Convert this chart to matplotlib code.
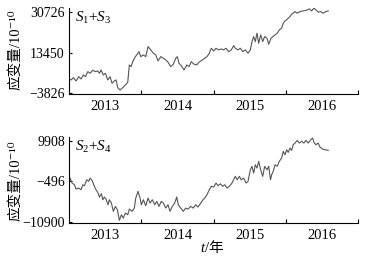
import matplotlib
matplotlib.use("Agg")
import matplotlib.pyplot as plt
from matplotlib.ticker import FixedLocator, NullFormatter, FixedFormatter

plt.rcParams['font.family'] = ['Liberation Serif', 'Noto Sans CJK SC', 'DejaVu Serif']
plt.rcParams['mathtext.fontset'] = 'custom'
plt.rcParams['mathtext.rm'] = 'Liberation Serif'
plt.rcParams['mathtext.it'] = 'Liberation Serif:italic'

# S1+S3 (decimal year, strain in 1e-10)
t13 = [2013.000, 2013.029, 2013.061, 2013.098, 2013.135, 2013.167, 2013.199, 2013.227,
       2013.260, 2013.291, 2013.329, 2013.365, 2013.398, 2013.420, 2013.443, 2013.475,
       2013.503, 2013.536, 2013.568, 2013.595, 2013.627, 2013.651, 2013.674, 2013.706,
       2013.743, 2013.779, 2013.812, 2013.834, 2013.858, 2013.881, 2013.917, 2013.936,
       2013.968, 2013.992, 2014.028, 2014.061, 2014.093, 2014.130, 2014.166, 2014.199,
       2014.231, 2014.268, 2014.304, 2014.337, 2014.369, 2014.406, 2014.442, 2014.475,
       2014.497, 2014.521, 2014.552, 2014.590, 2014.627, 2014.659, 2014.691, 2014.728,
       2014.765, 2014.797, 2014.843, 2014.876, 2014.907, 2014.939, 2014.967, 2015.000,
       2015.032, 2015.069, 2015.105, 2015.138, 2015.170, 2015.207, 2015.243, 2015.276,
       2015.298, 2015.335, 2015.367, 2015.401, 2015.436, 2015.474, 2015.506, 2015.529,
       2015.552, 2015.575, 2015.598, 2015.622, 2015.649, 2015.677, 2015.704, 2015.736,
       2015.760, 2015.792, 2015.847, 2015.878, 2015.906, 2015.939, 2015.961, 2015.985,
       2016.008, 2016.030, 2016.054, 2016.077, 2016.099, 2016.123, 2016.155, 2016.192,
       2016.238, 2016.285, 2016.320, 2016.354, 2016.385, 2016.413, 2016.445, 2016.478,
       2016.514, 2016.551, 2016.583]
s13 = [2274, 1848, 2829, 1421, 3256, 2274, 3981, 3256,
       5389, 4706, 5986, 5389, 5687, 4706, 6114, 3981,
       4706, 1848, 3256, 440, 1421, 1848, -1437, -2418,
       -1437, -285, 867, 8247, 7522, 9655, 11788, 12513,
       13921, 11788, 12513, 11788, 16054, 14646, 13238, 12513,
       9953, 11788, 11105, 10380, 9399, 7522, 8545, 11105,
       11788, 8972, 7948, 6114, 8247, 7522, 9655, 8545,
       8247, 9399, 10380, 11105, 11788, 13238, 15371, 14219,
       15371, 14646, 15072, 14646, 15371, 13921, 14646, 16480,
       15371, 14646, 15371, 13921, 14646, 13238, 14646, 18187,
       20320, 18187, 21770, 17504, 21045, 18187, 20320, 19637,
       17077, 19637, 21045, 21770, 23178, 23903, 26036, 27017,
       27444, 28169, 28852, 29875, 30302, 30985, 30302, 30985,
       31283, 31582, 32136, 31283, 32435, 31710, 30729, 30985,
       30302, 30985, 31283]

# S2+S4
t24 = [2013.000, 2013.015, 2013.043, 2013.075, 2013.098, 2013.135, 2013.167, 2013.191,
       2013.213, 2013.246, 2013.273, 2013.291, 2013.319, 2013.351, 2013.374, 2013.398,
       2013.420, 2013.448, 2013.467, 2013.489, 2013.512, 2013.540, 2013.558, 2013.586,
       2013.613, 2013.641, 2013.669, 2013.696, 2013.724, 2013.751, 2013.779, 2013.812,
       2013.834, 2013.872, 2013.903, 2013.923, 2013.954, 2013.982, 2014.000, 2014.028,
       2014.061, 2014.093, 2014.120, 2014.152, 2014.185, 2014.213, 2014.244, 2014.276,
       2014.304, 2014.337, 2014.369, 2014.396, 2014.428, 2014.461, 2014.489, 2014.511,
       2014.544, 2014.580, 2014.613, 2014.645, 2014.682, 2014.718, 2014.751, 2014.783,
       2014.820, 2014.852, 2014.876, 2014.907, 2014.939, 2014.967, 2015.000, 2015.032,
       2015.059, 2015.091, 2015.124, 2015.152, 2015.184, 2015.215, 2015.253, 2015.276,
       2015.298, 2015.326, 2015.354, 2015.381, 2015.414, 2015.446, 2015.474, 2015.506,
       2015.529, 2015.552, 2015.575, 2015.598, 2015.622, 2015.649, 2015.677, 2015.704,
       2015.736, 2015.760, 2015.785, 2015.801, 2015.823, 2015.847, 2015.878, 2015.906,
       2015.939, 2015.961, 2015.985, 2016.008, 2016.030, 2016.054, 2016.077, 2016.099,
       2016.123, 2016.155, 2016.182, 2016.215, 2016.247, 2016.275, 2016.307, 2016.340,
       2016.367, 2016.385, 2016.413, 2016.445, 2016.468, 2016.506, 2016.537, 2016.583]
s24 = [804, 366, -923, -1361, -2470, -2212, -2650, -1361,
       -1619, -72, -485, 366, -227, -1774, -2650, -3321,
       -4532, -3682, -5228, -4532, -5048, -6517, -5228, -6079,
       -8219, -6930, -7806, -10539, -9095, -9946, -8657, -9095,
       -7626, -8219, -7368, -4790, -3063, -4790, -6517, -5228,
       -6775, -4790, -6079, -5228, -6517, -5641, -6930, -5641,
       -6079, -7368, -6517, -8219, -6930, -6079, -4532, -6517,
       -7368, -8219, -7368, -7626, -6930, -7368, -6517, -7110,
       -6079, -5228, -4790, -3939, -2650, -1774, -1954, -923,
       -1619, -1104, -1774, -1361, -2212, -1774, -923, -72,
       804, -72, 804, -72, 366, -923, -485, 2506,
       3382, 1655, 3795, 2944, 4671, 2506, 804, 3382,
       2506, 3382, -72, 1217, 2093, 3795, 3382, 4671,
       5522, 7249, 6373, 7662, 6991, 8100, 7507, 8951,
       9389, 10085, 9389, 9827, 9389, 10085, 9389, 10240,
       10678, 9569, 8951, 9389, 8358, 7842, 7662, 7507]

year_ticks = [2014, 2015, 2016, 2017]
year_label_pos = [2013.5, 2014.5, 2015.5, 2016.5]
year_labels = ['2013', '2014', '2015', '2016']

ticks13 = [-3826, 13450, 30726]
ticks24 = [-10900, -496, 9908]

fig = plt.figure(figsize=(3.65, 2.64), dpi=100)
ax1 = fig.add_axes([0.189, 0.644, 0.793, 0.325])
ax2 = fig.add_axes([0.189, 0.154, 0.793, 0.328])

panels = [(ax1, t13, s13, ticks13, (-4125, 32430), '$S_1$+$S_3$'),
          (ax2, t24, s24, ticks24, (-11312, 11016), '$S_2$+$S_4$')]

for ax, t, s, yt, ylim, name in panels:
    ax.plot(t, s, color='#555555', lw=0.8)
    ax.set_xlim(2013, 2017)
    ax.set_ylim(*ylim)
    for side in ['top', 'right']:
        ax.spines[side].set_visible(False)
    ax.spines['left'].set_linewidth(0.8)
    ax.spines['bottom'].set_linewidth(0.8)
    ax.xaxis.set_major_locator(FixedLocator(year_ticks))
    ax.xaxis.set_major_formatter(NullFormatter())
    ax.xaxis.set_minor_locator(FixedLocator(year_label_pos))
    ax.xaxis.set_minor_formatter(FixedFormatter(year_labels))
    ax.tick_params(axis='x', which='major', direction='in', length=3, width=0.8)
    ax.tick_params(axis='x', which='minor', length=0, pad=4, labelsize=10.5)
    ax.set_yticks(yt)
    ax.set_yticklabels([str(v).replace('-', '\u2212') for v in yt])
    ax.tick_params(axis='y', direction='in', length=2, width=0.8, pad=3, labelsize=10)
    ax.text(0.022, 0.975, name, transform=ax.transAxes, ha='left', va='top', fontsize=11)

fig.text(0.042, 0.81, '应变量/10⁻¹⁰', rotation=90, ha='center', va='center', fontsize=10.5)
fig.text(0.042, 0.315, '应变量/10⁻¹⁰', rotation=90, ha='center', va='center', fontsize=10.5)
fig.text(0.561, 0.06, 't', style='italic', ha='right', va='center', fontsize=10.5)
fig.text(0.561, 0.06, '/年', ha='left', va='center', fontsize=10.5)

fig.savefig('out.png', dpi=100)
